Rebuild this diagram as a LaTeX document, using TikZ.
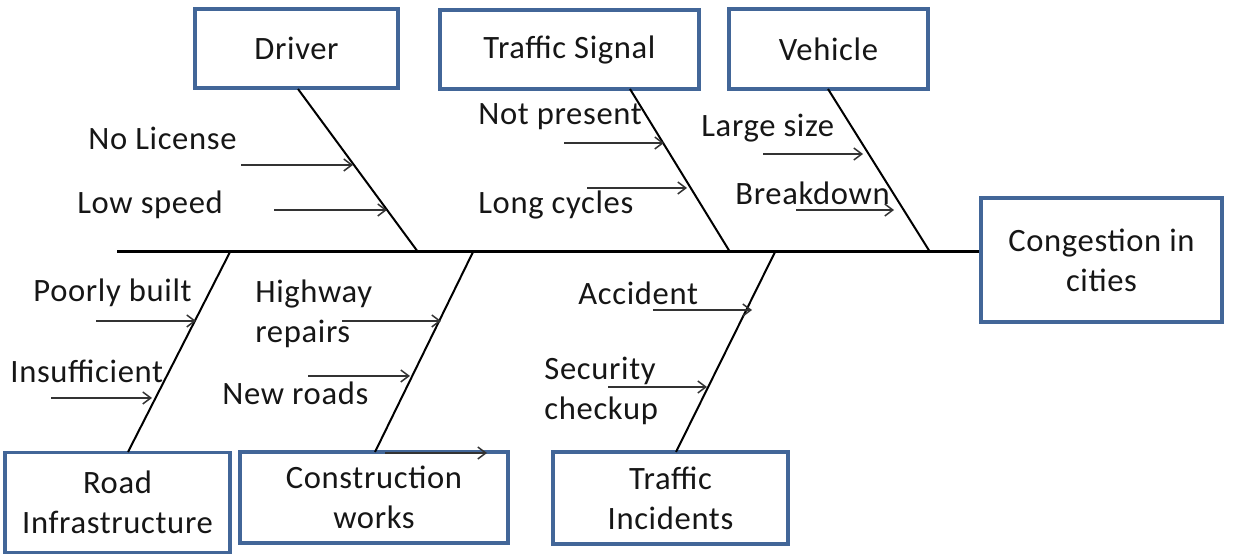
\documentclass[tikz,border=0pt]{standalone}
\usepackage{fontspec}
\setmainfont[LetterSpace=2]{Carlito}
\usetikzlibrary{arrows.meta}
\definecolor{boxblue}{RGB}{66,102,152}
\definecolor{ink}{RGB}{22,22,22}
\begin{document}
\begin{tikzpicture}[x=0.5pt,y=-0.5pt,
  txt/.style={font=\fontsize{16.3}{20}\selectfont,text=ink},
  cat/.style={txt,draw=boxblue,line width=1.8pt,fill=white,inner sep=0pt,align=center},
  lbl/.style={txt,inner sep=0pt,anchor=west,align=left},
  spine/.style={draw=black,line width=1.5pt},
  bone/.style={draw=black,line width=1pt},
  cause/.style={draw=black!80,line width=0.75pt,-{Straight Barb[length=4pt,width=6pt,line width=0.75pt]}}
]
\useasboundingbox (0,0) rectangle (1233,555);

% category boxes and the effect
\node[cat,minimum width=101.5pt,minimum height=39.5pt] (driver) at (296.5,48.5) {Driver};
\node[cat,minimum width=129.5pt,minimum height=39.5pt] (signal) at (569.5,49.5) {Traffic Signal};
\node[cat,minimum width=99.5pt,minimum height=40pt] (vehicle) at (828.5,49) {Vehicle};
\node[cat,minimum width=120.5pt,minimum height=62pt] (effect) at (1101.5,260) {Congestion in\\cities};
\node[cat,minimum width=112.5pt,minimum height=50pt] (road) at (117.5,502.5) {Road\\Infrastructure};
\node[cat,minimum width=134pt,minimum height=45.5pt] (works) at (374,497.5) {Construction\\works};
\node[cat,minimum width=117.5pt,minimum height=46pt] (incid) at (670.5,498) {Traffic\\Incidents};

% spine
\coordinate (tail) at (117,252);
\draw[spine] (tail) -- (tail -| effect.west);

% bones: box end and spine end
\coordinate (b1) at (298,89);   \coordinate (s1) at (418,252);
\coordinate (b2) at (630,89);   \coordinate (s2) at (730,252);
\coordinate (b3) at (828,89);   \coordinate (s3) at (930,252);
\coordinate (b4) at (128,452);  \coordinate (s4) at (230,252);
\coordinate (b5) at (375,452);  \coordinate (s5) at (473,252);
\coordinate (b6) at (676,452);  \coordinate (s6) at (775,252);
\foreach \i in {1,...,6} \draw[bone] (b\i) -- (s\i);

% cause arrows: start and end points
\coordinate (a1) at (241,165);  \coordinate (e1) at (353,165);
\coordinate (a2) at (274,210);  \coordinate (e2) at (387,210);
\coordinate (a3) at (564,143);  \coordinate (e3) at (664,143);
\coordinate (a4) at (587,188);  \coordinate (e4) at (687,188);
\coordinate (a5) at (763,154);  \coordinate (e5) at (863,154);
\coordinate (a6) at (796,210);  \coordinate (e6) at (894,210);
\coordinate (a7) at (96,321);   \coordinate (e7) at (196,321);
\coordinate (a8) at (51,398);   \coordinate (e8) at (152,398);
\coordinate (a9) at (342,321);  \coordinate (e9) at (441,321);
\coordinate (a10) at (308,376); \coordinate (e10) at (410,376);
\coordinate (a11) at (385,453); \coordinate (e11) at (487,453);
\coordinate (a12) at (653,310); \coordinate (e12) at (752,310);
\coordinate (a13) at (608,387); \coordinate (e13) at (707,387);
\foreach \i in {1,...,13} \draw[cause] (a\i) -- (e\i);

% cause labels
\node[lbl] (l1) at (88,138) {No License};
\node[lbl] (l2) at (77,205) {Low speed};
\node[lbl] (l3) at (478,117) {Not present};
\node[lbl] (l4) at (478,205) {Long cycles};
\node[lbl] (l5) at (701,128) {Large size};
\node[lbl] (l6) at (735,193) {Breakdown};
\node[lbl] (l7) at (33,293) {Poorly built};
\node[lbl] (l8) at (10,371) {Insufficient};
\node[lbl] (l9) at (255,314) {Highway\\repairs};
\node[lbl] (l10) at (222,393) {New roads};
\node[lbl] (l12) at (578,293) {Accident};
\node[lbl] (l13) at (544,391) {Security\\checkup};
\end{tikzpicture}
\end{document}
